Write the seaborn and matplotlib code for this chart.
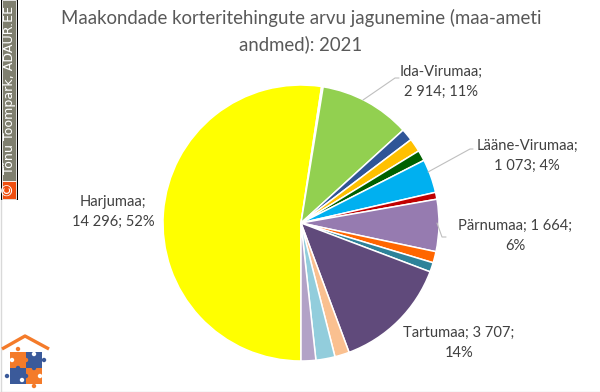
import matplotlib
matplotlib.use("Agg")
import matplotlib.pyplot as plt
from matplotlib.patches import Rectangle, Polygon, Circle
import seaborn as sns

sns.set_theme(style="white")
plt.rcParams['font.family'] = ['Lato', 'DejaVu Sans']

# values, only the labelled ones are exact
counties = ["Harjumaa", "Hiiumaa", "Ida-Virumaa", "Jõgevamaa", "Järvamaa", "Läänemaa",
            "Lääne-Virumaa", "Põlvamaa", "Pärnumaa", "Raplamaa", "Saaremaa", "Tartumaa",
            "Valgamaa", "Viljandimaa", "Võrumaa"]
deals = [14296, 50, 2914, 390, 430, 340, 1073, 220, 1664, 360, 300, 3707, 465, 610, 470]
colors = ["#FFFF00", "#A6A6A6", "#92D050", "#2F5597", "#FFC000", "#006100", "#00B0F0",
          "#C00000", "#967BB0", "#FF6600", "#2E8299", "#604A7B", "#FAC090", "#92CDDC", "#B2A2C7"]

title = "Maakondade korteritehingute arvu jagunemine (maa-ameti\nandmed): 2021"
labels = ["Harjumaa;\n14 296; 52%", "Ida-Virumaa;\n2 914; 11%", "Lääne-Virumaa;\n1 073; 4%",
          "Pärnumaa; 1 664;\n6%", "Tartumaa; 3 707;\n14%"]
label_pos = [(113, 212), (441, 82), (527, 156), (515, 236), (459, 343)]
leaders = [None,
           [(399, 78), (395, 78), (363, 100)],
           [(473, 149), (470, 149), (428, 172)],
           [(437, 223), (442, 237), (446, 237)],
           None]

W, H = 600, 392
fig = plt.figure(figsize=(W / 100, H / 100), dpi=100, facecolor="white")

# pie axes, placed in pixels
cx, cy, r = 301, 223, 138
ax = fig.add_axes([(cx - r) / W, 1 - (cy + r) / H, 2 * r / W, 2 * r / H])
ax.pie(deals, colors=colors, startangle=270, counterclock=False, radius=1,
       wedgeprops=dict(edgecolor="white", linewidth=1.1))
ax.set_xlim(-1, 1)
ax.set_ylim(-1, 1)
ax.axis("off")

# overlay in pixel coordinates for texts and decoration
ov = fig.add_axes([0, 0, 1, 1], facecolor="none")
ov.set_xlim(0, W)
ov.set_ylim(H, 0)
ov.axis("off")

ov.text(301, 31, title, ha="center", va="center", fontsize=13.4, color="#595959", linespacing=1.5)
for lab, pos in zip(labels, label_pos):
    ov.text(pos[0], pos[1], lab, ha="center", va="center", fontsize=10.6, color="#404040", linespacing=1.55)
for line in leaders:
    if line:
        ov.plot([p[0] for p in line], [p[1] for p in line], color="#BFBFBF", lw=0.8)

# outer frame
ov.plot([0.5, 0.5], [200, H], color="#D9D9D9", lw=1)
ov.plot([0, W], [H - 0.5, H - 0.5], color="#D9D9D9", lw=1)

# copyright strip
ov.add_patch(Rectangle((1, 0), 17, 200, fc="#000000", ec="none"))
ov.add_patch(Rectangle((2, 0), 14, 181, fc="#7F7F6F", ec="white", lw=0.6))
ov.add_patch(Rectangle((2, 181), 14, 18, fc="#F04E0F", ec="white", lw=0.6))
ov.text(9, 190, "©", rotation=90, ha="center", va="center", color="white", fontsize=11)
ov.text(9.5, 90, "Tõnu Toompark, ADAUR.EE", rotation=90, ha="center", va="center",
        color="white", fontsize=9.1, family="DejaVu Sans")

# logo
orange, navy = "#F47B2A", "#3B5A9A"
ov.plot([2, 25, 49], [349, 336, 349], color=orange, lw=2.4, solid_capstyle="butt")
ov.add_patch(Rectangle((10, 352), 16, 16, fc=orange, ec="none"))
ov.add_patch(Rectangle((26, 352), 16, 16, fc=navy, ec="none"))
ov.add_patch(Rectangle((10, 368), 16, 16, fc=navy, ec="none"))
ov.add_patch(Rectangle((26, 368), 16, 16, fc=orange, ec="none"))
for x, y, c in [(18, 349, orange), (44, 360, navy), (7, 376, navy), (34, 386, orange),
                (26, 360, orange), (34, 368, navy), (18, 368, navy), (26, 376, navy)]:
    ov.add_patch(Circle((x, y), 2.2, fc=c, ec="none"))
for x, y in [(12, 360), (34, 354), (22, 380), (40, 376)]:
    ov.add_patch(Circle((x, y), 2.2, fc="white", ec="none"))

fig.savefig("out.png", dpi=100)
